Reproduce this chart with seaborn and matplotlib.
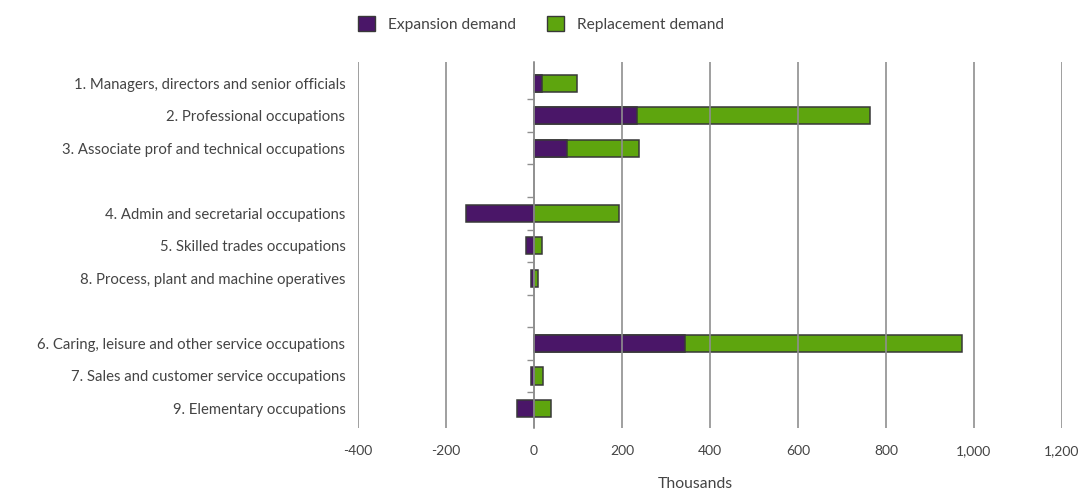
import numpy as np
import pandas as pd
import matplotlib
matplotlib.use("Agg")
import matplotlib.pyplot as plt
from matplotlib.patches import Patch
from matplotlib.ticker import FuncFormatter
import seaborn as sns

# Occupation groups (thousands of job openings)
occupations = [
    "1. Managers, directors and senior officials",
    "2. Professional occupations",
    "3. Associate prof and technical occupations",
    "4. Admin and secretarial occupations",
    "5. Skilled trades occupations",
    "8. Process, plant and machine operatives",
    "6. Caring, leisure and other service occupations",
    "7. Sales and customer service occupations",
    "9. Elementary occupations",
]
expansion = [19, 234, 74, -154, -18, -6, 344, -6, -39]
replacement = [78, 530, 164, 194, 18, 10, 629, 20, 39]

# Blank slots separate the three occupation groups
order = occupations[:3] + [""] + occupations[3:6] + [" "] + occupations[6:]

x_ticks = [-400, -200, 0, 200, 400, 600, 800, 1000, 1200]

PURPLE = "#4a1668"
GREEN = "#5ea50e"
EDGE = "#383838"
GRID = "#8f8f8f"
TEXT = "#444444"

df = pd.DataFrame({
    "occupation": occupations,
    "expansion": expansion,
    "replacement": replacement,
})
# Replacement demand sits after positive expansion, or starts at zero otherwise
df["green_end"] = np.clip(df["expansion"], 0, None) + df["replacement"]

sns.set_theme(style="white")
plt.rcParams["font.family"] = ["Lato", "DejaVu Sans"]

fig = plt.figure(figsize=(10.9, 4.9), dpi=100)
ax = fig.add_axes([0.3284, 0.1265, 0.6459, 0.747])

bar_kw = dict(data=df, y="occupation", order=order, orient="y",
              errorbar=None, saturation=1, width=0.53,
              edgecolor=EDGE, linewidth=1.1, ax=ax)
sns.barplot(x="green_end", color=GREEN, **bar_kw)
sns.barplot(x="expansion", color=PURPLE, **bar_kw)

ax.set_xlim(-400, 1200)
ax.set_ylim(len(order) - 0.4, -0.65)
ax.set_xticks(x_ticks)
ax.xaxis.set_major_formatter(FuncFormatter(lambda v, p: f"{v:,.0f}"))
ax.xaxis.grid(True, color=GRID, linewidth=1.2)
ax.yaxis.grid(False)
ax.set_axisbelow(False)
for s in ax.spines.values():
    s.set_visible(False)

ax.tick_params(axis="x", length=0, pad=12, labelsize=10, labelcolor=TEXT)
ax.tick_params(axis="y", length=0, pad=9, labelsize=10.7, labelcolor=TEXT)
ax.set_ylabel("")
ax.set_xlabel("Thousands", fontsize=11.3, color=TEXT)
ax.xaxis.set_label_coords(0.479, -0.152)
ax.xaxis.label.set_verticalalignment("center")

# Zero axis with small separator ticks between rows
zero_frac = (0 - (-400)) / (1200 - (-400))
sec = ax.secondary_yaxis(zero_frac)
sec.set_yticks(np.arange(0.5, len(order) - 1, 1.0))
sec.tick_params(axis="y", direction="out", length=5, width=1.0,
                color=GRID, labelleft=False, labelright=False)
sec.spines["left"].set_color(GRID)
sec.spines["left"].set_linewidth(1.2)
for k in ("right", "top", "bottom"):
    sec.spines[k].set_visible(False)

handles = [
    Patch(facecolor=PURPLE, edgecolor=EDGE, label="Expansion demand"),
    Patch(facecolor=GREEN, edgecolor=EDGE, label="Replacement demand"),
]
fig.legend(handles=handles, loc="center", bbox_to_anchor=(541 / 1090, 0.951),
           ncol=2, frameon=False, fontsize=11.2, labelcolor=TEXT,
           handlelength=1.1, handleheight=1.1, handletextpad=0.8,
           columnspacing=2.0)

fig.savefig("out.png", dpi=100)
